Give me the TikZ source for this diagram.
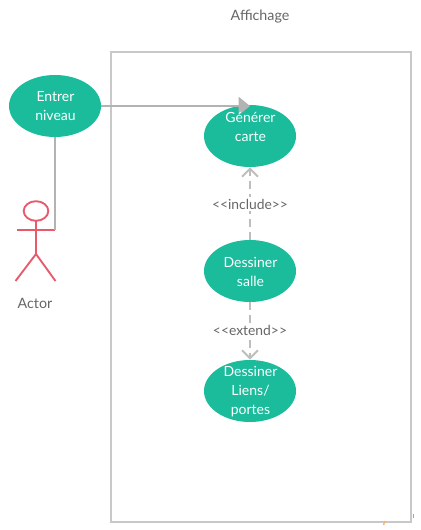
\documentclass[tikz,border=0pt]{standalone}
\usepackage{fontspec}
\setmainfont{Lato}
\usetikzlibrary{arrows.meta,shapes.geometric}
\definecolor{teal1}{HTML}{1ABC9C}
\definecolor{lineg}{HTML}{B3B3B3}
\definecolor{boxg}{HTML}{C8C8C8}
\definecolor{actorred}{HTML}{E85A6B}
\definecolor{labelg}{HTML}{666666}
\tikzset{
  x=0.75pt,y=-0.75pt,
  usecase/.style={ellipse,fill=teal1,draw=none,minimum width=69pt,minimum height=46.5pt,inner sep=0pt},
  casetext/.style={inner sep=0pt,text=white,font=\fontsize{10.5}{14.3}\selectfont,align=center},
  plain/.style={inner sep=0pt,text=labelg,font=\fontsize{10.7}{13}\selectfont},
  assoc/.style={draw=lineg,line width=1.5pt},
  depend/.style={draw=lineg!85!white,line width=1.5pt,dash pattern=on 6pt off 3.5pt,-{Straight Barb[length=6pt,width=12pt,line width=1.5pt]}},
  actorline/.style={draw=actorred,line width=1.4pt},
  deplabel/.style={fill=white,inner sep=1.5pt,text=labelg,font=\fontsize{10.4}{13}\selectfont}
}
\begin{document}
\begin{tikzpicture}
\useasboundingbox (0,0) rectangle (420,530);
\fill[white] (0,0) rectangle (420,530);
\draw[draw=boxg,line width=1.5pt] (111,52) rectangle (411,522);
\draw[draw=orange!60,line width=1pt] (383.5,525) -- (385,521);
\draw[draw=gray!70,line width=0.6pt] (413.5,514) -- (413.5,518);
\node[plain] (title) at (260,17) {Affichage};
\node[usecase] (entrer) at (55,106) {};
\node[usecase] (gen) at (250,136) {};
\node[usecase] (salle) at (250,271) {};
\node[usecase] (liens) at (250,391) {};
\node[plain] (actor) at (35,303.5) {Actor};
% actor figure
\draw[actorline] (36,211) ellipse (12.3 and 9.8);
\coordinate (neck) at (36,221);
\coordinate (hip) at (36,254);
\coordinate (armL) at (17,230);
\coordinate (armR) at (55,230);
\draw[actorline] (neck) -- (hip);
\draw[actorline] (armL) -- (armR);
\draw[actorline] (15.5,281) -- (hip) -- (55.5,281);
% connectors
\draw[assoc,-{Triangle[length=8.5pt,width=13.5pt]}] (entrer.east) -- (entrer.east -| gen.north);
\draw[assoc] (entrer.south) -- (entrer.south |- armR) -- (armR);
\draw[depend] (salle.north) -- (gen.south) node[deplabel,pos=0.49] (inc) {<{}<include>{}>};
\draw[depend] (salle.south) -- (liens.north) node[deplabel,pos=0.49] (ext) {<{}<extend>{}>};
\node[casetext] (entrertext) at (55.5,106.5) {Entrer\\niveau};
\node[casetext] (gentext) at (250.5,127) {Générer\\carte};
\node[casetext] (salletext) at (250.5,271.5) {Dessiner\\salle};
\node[casetext] (lienstext) at (250.5,391.5) {Dessiner\\Liens/\\portes};
\end{tikzpicture}
\end{document}
